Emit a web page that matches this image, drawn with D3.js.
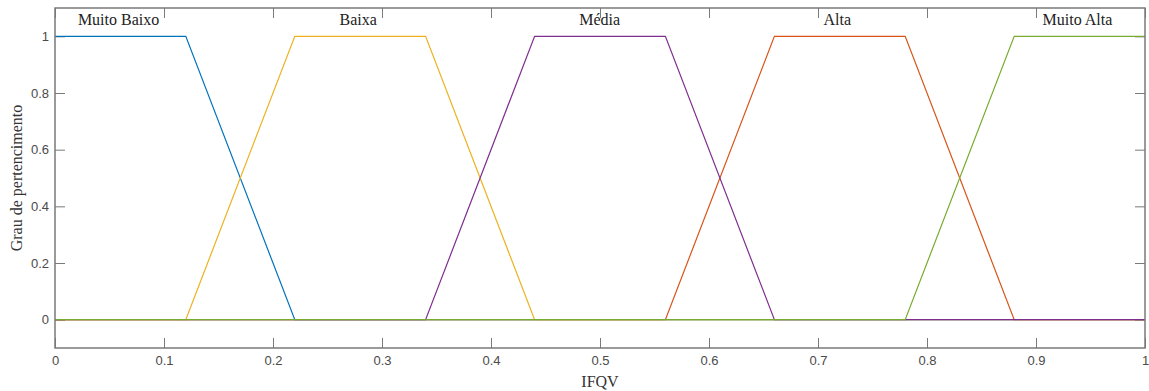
<!DOCTYPE html>
<html>
<head>
<meta charset="utf-8">
<script src="https://cdn.jsdelivr.net/npm/d3@7"></script>
<style>
  body { margin: 0; background: #fff; }
  svg { display: block; }
</style>
</head>
<body>
<div id="chart"></div>
<script>
// membership functions (trapezoids), listed in MATLAB plot order
const setNames = ['Muito Baixo', 'Alta', 'Baixa', 'Média', 'Muito Alta'];
const setColors = ['#0072BD', '#D95319', '#EDB120', '#7E2F8E', '#77AC30'];
const setXs = [
  [0, 0.12, 0.22, 1],
  [0, 0.56, 0.66, 0.78, 0.88, 1],
  [0, 0.12, 0.22, 0.34, 0.44, 1],
  [0, 0.34, 0.44, 0.56, 0.66, 1],
  [0, 0.78, 0.88, 1]
];
const setYs = [
  [1, 1, 0, 0],
  [0, 0, 1, 1, 0, 0],
  [0, 0, 1, 1, 0, 0],
  [0, 0, 1, 1, 0, 0],
  [0, 0, 1, 1]
];

// text labels placed in data coordinates
const labelText = ['Muito Baixo', 'Baixa', 'Média', 'Alta', 'Muito Alta'];
const labelX = [0.021, 0.261, 0.481, 0.705, 0.906];
const labelY = 1.04;

const xTicks = [0, 0.1, 0.2, 0.3, 0.4, 0.5, 0.6, 0.7, 0.8, 0.9, 1];
const yTicks = [0, 0.2, 0.4, 0.6, 0.8, 1];

const W = 1149, H = 391;
const margin = { top: 8, right: 4, bottom: 43, left: 55 };
const width = W - margin.left - margin.right;
const height = H - margin.top - margin.bottom;

const svg = d3.select('#chart').append('svg')
  .attr('width', W)
  .attr('height', H);

const g = svg.append('g')
  .attr('transform', 'translate(' + margin.left + ',' + margin.top + ')');

const x = d3.scaleLinear().domain([0, 1]).range([0, width]);
const y = d3.scaleLinear().domain([-0.1, 1.1]).range([height, 0]);

const axisColor = '#7a7a7a';
const tickLen = 10;

// axes box, MATLAB style: ticks inside on every side
function styleAxis(sel, showText) {
  sel.select('.domain').remove();
  sel.selectAll('.tick line').attr('stroke', axisColor);
  sel.selectAll('.tick text')
    .attr('fill', '#4a4a4a')
    .style('font-family', 'Liberation Sans, Arial, sans-serif')
    .style('font-size', '13px');
  if (!showText) sel.selectAll('.tick text').remove();
}

g.append('g')
  .attr('transform', 'translate(0,' + height + ')')
  .call(d3.axisBottom(x).tickValues(xTicks).tickSize(-tickLen).tickPadding(8)
    .tickFormat(d3.format('~g')))
  .call(s => styleAxis(s, true));

g.append('g')
  .call(d3.axisTop(x).tickValues(xTicks).tickSize(-tickLen))
  .call(s => styleAxis(s, false));

g.append('g')
  .call(d3.axisLeft(y).tickValues(yTicks).tickSize(-tickLen).tickPadding(6)
    .tickFormat(d3.format('~g')))
  .call(s => styleAxis(s, true));

g.append('g')
  .attr('transform', 'translate(' + width + ',0)')
  .call(d3.axisRight(y).tickValues(yTicks).tickSize(-tickLen))
  .call(s => styleAxis(s, false));

// curves
const line = d3.line()
  .x(d => x(d[0]))
  .y(d => y(d[1]));

setNames.forEach((name, i) => {
  const pts = setXs[i].map((v, j) => [v, setYs[i][j]]);
  g.append('path')
    .datum(pts)
    .attr('fill', 'none')
    .attr('stroke', setColors[i])
    .attr('stroke-width', 1.2)
    .attr('d', line);
});

g.append('rect')
  .attr('x', 0).attr('y', 0)
  .attr('width', width).attr('height', height)
  .attr('fill', 'none')
  .attr('stroke', axisColor)
  .attr('stroke-width', 1.5);

// set labels
g.selectAll('.mf-label')
  .data(labelText)
  .enter().append('text')
  .attr('class', 'mf-label')
  .attr('x', (d, i) => x(labelX[i]))
  .attr('y', y(labelY))
  .style('font-family', 'Liberation Serif, Times New Roman, serif')
  .style('font-size', '16px')
  .attr('fill', '#222')
  .text(d => d);

// axis titles
svg.append('text')
  .attr('x', margin.left + width / 2)
  .attr('y', 387)
  .attr('text-anchor', 'middle')
  .style('font-family', 'Liberation Serif, Times New Roman, serif')
  .style('font-size', '16px')
  .attr('fill', '#333')
  .text('IFQV');

svg.append('text')
  .attr('transform', 'translate(22,' + (margin.top + height / 2) + ') rotate(-90)')
  .attr('text-anchor', 'middle')
  .style('font-family', 'Liberation Serif, Times New Roman, serif')
  .style('font-size', '16px')
  .attr('fill', '#333')
  .text('Grau de pertencimento');
</script>
</body>
</html>
